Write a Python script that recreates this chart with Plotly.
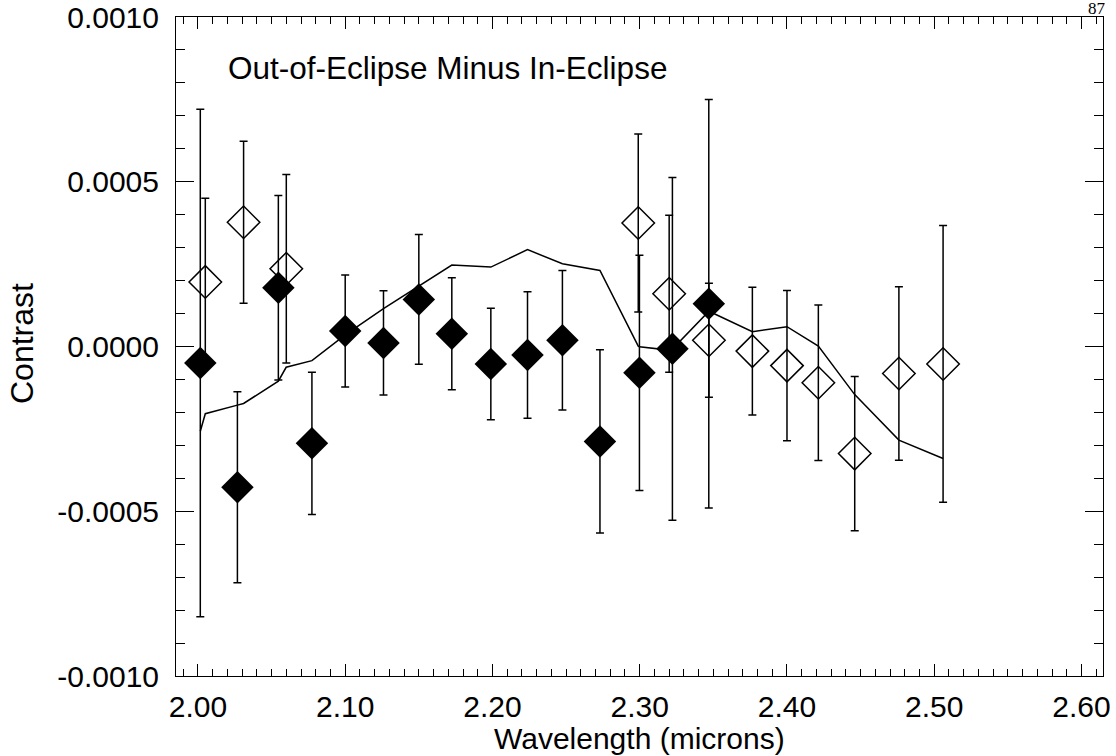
import plotly.graph_objects as go

# Filled diamonds (series A)
wl_filled = [2.0016, 2.0268, 2.0546, 2.0774, 2.100, 2.126, 2.150, 2.1724, 2.1989,
             2.2238, 2.2475, 2.273, 2.2998, 2.3222, 2.3469]
c_filled = [-0.00005, -0.000427, 0.000178, -0.000294, 0.000047, 0.000011, 0.000143,
            0.000039, -0.000053, -0.000026, 0.000019, -0.000288, -0.00008, -0.000007, 0.00013]
e_filled = [0.00077, 0.00029, 0.00028, 0.000216, 0.00017, 0.000158, 0.000197,
            0.00017, 0.000169, 0.000192, 0.000212, 0.000278, 0.000357, 0.00052, 0.00062]

# Open diamonds (series B)
wl_open = [2.005, 2.031, 2.060, 2.299, 2.320, 2.347, 2.3765, 2.400, 2.4213, 2.446, 2.476, 2.506]
c_open = [0.000196, 0.000377, 0.000236, 0.000375, 0.00016, 0.000019, -0.000014, -0.000058,
          -0.00011, -0.000325, -0.000082, -0.000053]
e_open = [0.000254, 0.000246, 0.000286, 0.00027, 0.000238, 0.000173, 0.000194, 0.000228,
          0.000236, 0.000234, 0.000263, 0.00042]

# Model line
wl_model = [2.0016, 2.005, 2.0268, 2.031, 2.0546, 2.0599, 2.0774, 2.100, 2.126, 2.150,
            2.1724, 2.1989, 2.2238, 2.2475, 2.273, 2.299, 2.2998, 2.320, 2.3222, 2.347,
            2.3765, 2.400, 2.4213, 2.446, 2.476, 2.506]
c_model = [-0.000257, -0.000204, -0.000178, -0.000173, -0.000105, -0.000063, -0.000043,
           0.000035, 0.000115, 0.000182, 0.000247, 0.000241, 0.000294, 0.000251, 0.000231,
           0.000001, -0.000001, -0.000011, -0.000008, 0.000107, 0.000045, 0.00006, 0.000001,
           -0.000146, -0.000284, -0.00034]

x_ticks = [2.0, 2.1, 2.2, 2.3, 2.4, 2.5, 2.6]
x_ticktext = ["2.00", "2.10", "2.20", "2.30", "2.40", "2.50", "2.60"]
y_ticks = [-0.001, -0.0005, 0.0, 0.0005, 0.001]
y_ticktext = ["-0.0010", "-0.0005", "0.0000", "0.0005", "0.0010"]

FONT = "Liberation Sans, Arial, sans-serif"

fig = go.Figure()
fig.add_trace(go.Scatter(x=wl_model, y=c_model, mode="lines",
                         line=dict(color="black", width=1.5), showlegend=False))
fig.add_trace(go.Scatter(x=wl_open, y=c_open, mode="markers",
                         marker=dict(symbol="diamond-open", size=25, color="black",
                                     line=dict(color="black", width=1.5)),
                         error_y=dict(type="data", array=e_open, color="black",
                                      thickness=1.5, width=4),
                         showlegend=False))
fig.add_trace(go.Scatter(x=wl_filled, y=c_filled, mode="markers",
                         marker=dict(symbol="diamond", size=25, color="black",
                                     line=dict(width=0)),
                         error_y=dict(type="data", array=e_filled, color="black",
                                      thickness=1.5, width=4),
                         showlegend=False))

axis_common = dict(showgrid=False, zeroline=False, showline=True, linecolor="black",
                   linewidth=1, mirror="allticks", ticks="inside", tickcolor="black",
                   tickwidth=1, tickfont=dict(family=FONT, size=30, color="black"))

fig.update_xaxes(range=[1.9851, 2.6146], tickmode="array", tickvals=x_ticks,
                 ticktext=x_ticktext, ticklen=12, ticklabelstandoff=4,
                 minor=dict(dtick=0.01, tick0=2.0, ticklen=7, ticks="inside",
                            tickcolor="black", tickwidth=1, showgrid=False),
                 **axis_common)
fig.update_yaxes(range=[-0.001, 0.001], tickmode="array", tickvals=y_ticks,
                 ticktext=y_ticktext, ticklen=18, ticklabelstandoff=10,
                 minor=dict(dtick=0.0001, tick0=0.0, ticklen=9, ticks="inside",
                            tickcolor="black", tickwidth=1, showgrid=False),
                 **axis_common)

fig.update_layout(
    width=1116, height=756,
    margin=dict(l=176, r=13, t=17, b=80, autoexpand=False),
    paper_bgcolor="white", plot_bgcolor="white",
    font=dict(family=FONT, color="black"),
    annotations=[
        dict(text="Out-of-Eclipse Minus In-Eclipse", xref="paper", yref="paper",
             x=0.0539, y=0.9226, xanchor="left", yanchor="middle", showarrow=False,
             font=dict(family=FONT, size=31.5, color="black")),
        dict(text="Wavelength (microns)", xref="paper", yref="paper",
             x=0.5, y=-0.0945, xanchor="center", yanchor="middle", showarrow=False,
             borderpad=0, font=dict(family=FONT, size=30, color="black")),
        dict(text="Contrast", xref="paper", yref="paper", textangle=-90,
             x=-0.1661, y=0.5038, xanchor="center", yanchor="middle", showarrow=False,
             font=dict(family=FONT, size=32, color="black")),
        dict(text="87", xref="paper", yref="paper",
             x=0.993, y=1.0125, xanchor="center", yanchor="middle", showarrow=False,
             borderpad=0,
             font=dict(family="Liberation Serif, Times New Roman, serif", size=17, color="black")),
    ],
)

fig.write_html("out.html")
